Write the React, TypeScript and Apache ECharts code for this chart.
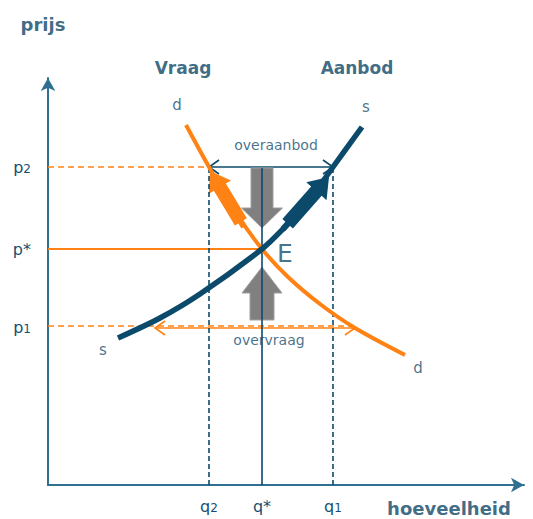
import React, { useEffect, useRef } from "react";
import * as echarts from "echarts";

// ---- data (chart space: x = quantity, y = price) ----
const supplyCurve: number[][] = [[70, 147], [112, 167], [152, 191], [214, 236], [235, 256], [260, 283], [285, 318], [314, 358]];
const demandCurve: number[][] = [[138, 360], [161, 318], [186, 275], [214, 236], [240, 208], [272, 181], [307, 157], [357, 130]];

const priceTicks = [158, 236, 318];
const priceMain = ["p", "p*", "p"];
const priceSub = ["1", "", "2"];
const quantityTicks = [161, 214, 285];
const quantityMain = ["q", "q*", "q"];
const quantitySub = ["2", "", "1"];

const p2Guide = [[0, 318], [161, 318]];
const pStarGuide = [[0, 236], [214, 236]];
const p1Guide = [[0, 159], [307, 159]];
const q2Guide = [[161, 0], [161, 318]];
const qStarGuide = [[214, 0], [214, 317]];
const q1Guide = [[285, 0], [285, 318]];

// double arrows: [xFrom, xTo, y]
const surplusArrow = [[161, 285, 318]];
const shortageArrow = [[107, 307, 157]];

// block arrows: [tailX, tailY, tipX, tipY]
const priceDownArrow = [[214, 317, 214, 257]];
const priceUpArrow = [[214, 165, 214, 218]];
const demandMoveArrow = [[196, 258, 162, 314]];
const supplyMoveArrow = [[235, 256, 281, 308]];

const labelItems = [
  { name: "Vraag", value: [135, 417], kind: "title" },
  { name: "Aanbod", value: [309, 417], kind: "title" },
  { name: "d", value: [129, 380], kind: "curve" },
  { name: "s", value: [318, 378], kind: "curve" },
  { name: "s", value: [55, 135], kind: "curve" },
  { name: "d", value: [370, 117], kind: "curve" },
  { name: "E", value: [237, 232], kind: "big" },
  { name: "overaanbod", value: [228, 340], kind: "small" },
  { name: "overvraag", value: [221, 145], kind: "smallbg" },
  { name: "prijs", value: [-5, 461], kind: "axis" },
  { name: "hoeveelheid", value: [401, -23], kind: "axis" },
];

// ---- styles ----
const FONT = "DejaVu Sans";
const NAVY = "#0b4a6b";
const TEXT = "#164f6f";
const TITLE = "#0b4666";
const ORANGE = "#ff8214";
const AXIS = "#2f7090";
const GRAY = "#808080";

function blockArrow(tail: number[], tip: number[], shaftW: number, headW: number, headL: number, stubW: number, stubL: number) {
  const dx = tip[0] - tail[0];
  const dy = tip[1] - tail[1];
  const len = Math.hypot(dx, dy);
  const ux = dx / len, uy = dy / len;
  const nx = -uy, ny = ux;
  const P = (t: number, w: number) => [tail[0] + ux * t + nx * w, tail[1] + uy * t + ny * w];
  const hb = len - headL;
  const pts: number[][] = [];
  if (stubL > 0) pts.push(P(0, stubW / 2), P(stubL, stubW / 2));
  pts.push(P(stubL, shaftW / 2), P(hb, shaftW / 2), P(hb, headW / 2), P(len, 0), P(hb, -headW / 2), P(hb, -shaftW / 2), P(stubL, -shaftW / 2));
  if (stubL > 0) pts.push(P(stubL, -stubW / 2), P(0, -stubW / 2));
  return pts;
}

function blockArrowSeries(data: number[][], fill: string, stroke: string, lw: number, shaftW: number, headW: number, headL: number, stubW: number, stubL: number) {
  return {
    type: "custom",
    silent: true,
    clip: false,
    data,
    renderItem: (params: any, api: any) => {
      const tail = api.coord([api.value(0), api.value(1)]);
      const tip = api.coord([api.value(2), api.value(3)]);
      return {
        type: "polygon",
        shape: { points: blockArrow(tail, tip, shaftW, headW, headL, stubW, stubL) },
        style: { fill, stroke, lineWidth: lw },
      };
    },
  };
}

function doubleArrowSeries(data: number[][], color: string) {
  return {
    type: "custom",
    silent: true,
    clip: false,
    data,
    renderItem: (params: any, api: any) => {
      const a = api.coord([api.value(0), api.value(2)]);
      const b = api.coord([api.value(1), api.value(2)]);
      const s = 10, h = 7;
      const st = { stroke: color, fill: "none", lineWidth: 1.6 };
      return {
        type: "group",
        children: [
          { type: "line", shape: { x1: a[0], y1: a[1], x2: b[0], y2: b[1] }, style: st },
          { type: "polyline", shape: { points: [[a[0] + s, a[1] - h], [a[0], a[1]], [a[0] + s, a[1] + h]] }, style: st },
          { type: "polyline", shape: { points: [[b[0] - s, b[1] - h], [b[0], b[1]], [b[0] - s, b[1] + h]] }, style: st },
        ],
      };
    },
  };
}

function guide(data: number[][], color: string, type: any, width: number) {
  return { type: "line", data, silent: true, showSymbol: false, symbol: "none", lineStyle: { color, type, width } };
}

const labelStyles: Record<string, any> = {
  title: { fontSize: 17, fontWeight: "bold", color: TITLE },
  curve: { fontSize: 15, color: TEXT },
  big: { fontSize: 25, color: TEXT },
  small: { fontSize: 14, color: TEXT },
  smallbg: { fontSize: 14, color: TEXT, backgroundColor: "#ffffff", padding: [2, 2] },
  axis: { fontSize: 18, fontWeight: "bold", color: TITLE },
};

const tickRich = {
  m: { fontSize: 16, color: TEXT, fontFamily: FONT, verticalAlign: "bottom" },
  s: { fontSize: 12, color: TEXT, fontFamily: FONT, verticalAlign: "bottom" },
};

function tickFormatter(ticks: number[], main: string[], sub: string[]) {
  return (v: number) => {
    const i = ticks.findIndex((t) => Math.abs(t - v) < 0.5);
    if (i < 0) return "";
    return sub[i] ? `{m|${main[i]}}{s|${sub[i]}}` : `{m|${main[i]}}`;
  };
}

export default function App() {
  const ref = useRef<HTMLDivElement>(null);
  useEffect(() => {
    if (!ref.current) return;
    const chart = echarts.init(ref.current, undefined, { renderer: "svg" });
    chart.setOption({
      animation: false,
      backgroundColor: "#ffffff",
      textStyle: { fontFamily: FONT },
      grid: { left: 48, top: 78, width: 476, height: 407, containLabel: false },
      xAxis: {
        type: "value", min: 0, max: 476,
        splitLine: { show: false }, axisTick: { show: false },
        axisLine: { show: true, lineStyle: { color: AXIS, width: 2 }, symbol: ["none", "arrow"], symbolSize: [11, 13] },
        axisLabel: { customValues: quantityTicks, formatter: tickFormatter(quantityTicks, quantityMain, quantitySub), rich: tickRich, margin: 13 },
      },
      yAxis: {
        type: "value", min: 0, max: 407,
        splitLine: { show: false }, axisTick: { show: false },
        axisLine: { show: true, lineStyle: { color: AXIS, width: 2 }, symbol: ["none", "arrow"], symbolSize: [11, 13] },
        axisLabel: { customValues: priceTicks, formatter: tickFormatter(priceTicks, priceMain, priceSub), rich: tickRich, margin: 17 },
      },
      series: [
        guide(p2Guide, ORANGE, [6, 4], 1.6),
        guide(pStarGuide, ORANGE, "solid", 2),
        guide(p1Guide, ORANGE, [6, 4], 1.6),
        guide(q2Guide, NAVY, [5, 3], 1.6),
        guide(qStarGuide, NAVY, "solid", 1.6),
        guide(q1Guide, NAVY, [5, 3], 1.6),
        doubleArrowSeries(surplusArrow, NAVY),
        doubleArrowSeries(shortageArrow, ORANGE),
        { type: "line", name: "Vraag", data: demandCurve, smooth: 0.3, showSymbol: false, symbol: "none", silent: true, lineStyle: { color: ORANGE, width: 4 } },
        { type: "line", name: "Aanbod", data: supplyCurve, smooth: 0.3, showSymbol: false, symbol: "none", silent: true, lineStyle: { color: NAVY, width: 5.5 } },
        blockArrowSeries(priceDownArrow, GRAY, "#a0a0a0", 1, 22, 41, 20, 0, 0),
        blockArrowSeries(priceUpArrow, GRAY, "#a0a0a0", 1, 24, 40, 26, 0, 0),
        blockArrowSeries(demandMoveArrow, ORANGE, ORANGE, 0, 14, 26, 19, 6, 6),
        blockArrowSeries(supplyMoveArrow, NAVY, NAVY, 0, 14, 27, 19, 6, 7),
        {
          type: "scatter", silent: true, clip: false, symbolSize: 0,
          data: labelItems.map((d) => ({
            name: d.name, value: d.value,
            label: { show: true, position: "inside", formatter: "{b}", fontFamily: FONT, ...labelStyles[d.kind] },
          })),
        },
      ],
    });
    return () => chart.dispose();
  }, []);
  return <div ref={ref} style={{ position: "fixed", left: 0, top: 0, width: 533, height: 519, background: "#fff" }} />;
}
